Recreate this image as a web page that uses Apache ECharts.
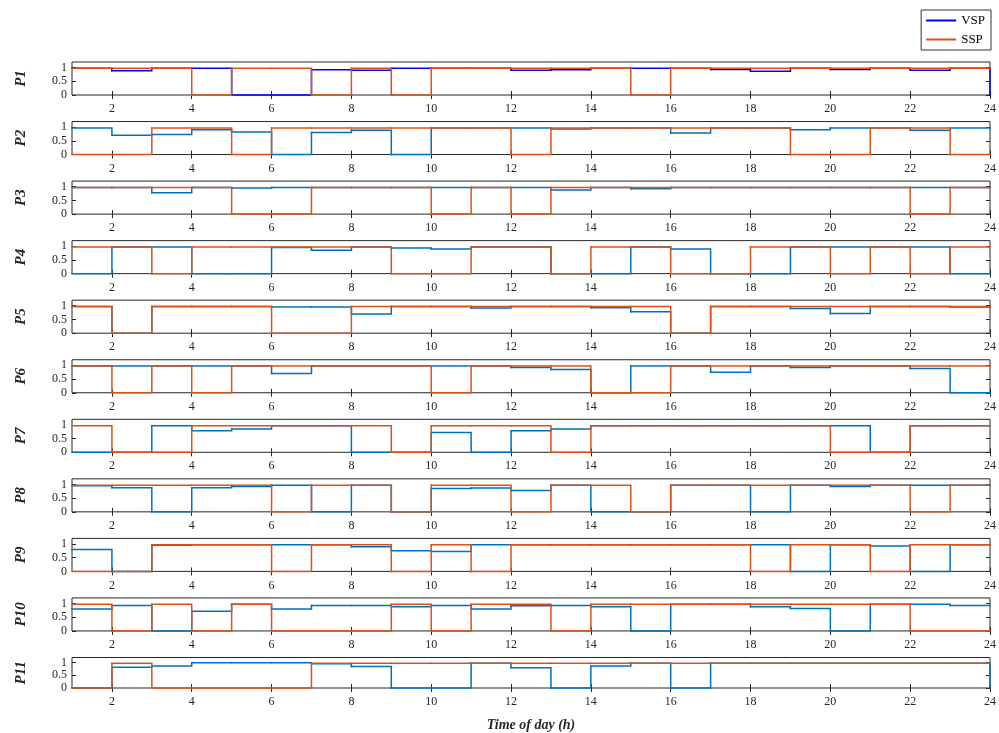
<!DOCTYPE html>
<html>
<head>
<meta charset="utf-8">
<script src="https://cdn.jsdelivr.net/npm/echarts@6/dist/echarts.min.js"></script>
<style>
  html, body { margin: 0; padding: 0; background: #fff; }
  #chart { width: 999px; height: 733px; }
</style>
</head>
<body>
<div id="chart"></div>
<script>
// hours of the day (x), one value per hour, drawn as stairs
var hours = [1, 2, 3, 4, 5, 6, 7, 8, 9, 10, 11, 12, 13, 14, 15, 16, 17, 18, 19, 20, 21, 22, 23, 24];
var xTicks = [2, 4, 6, 8, 10, 12, 14, 16, 18, 20, 22, 24];
var yTicks = [0, 0.5, 1];
var panelNames = ["P1", "P2", "P3", "P4", "P5", "P6", "P7", "P8", "P9", "P10", "P11"];

var vsp1 = [0.97, 0.88, 0.97, 0.97, 0, 0, 0.92, 0.9, 0.97, 0.97, 0.97, 0.9, 0.92, 0.97, 0.97, 0.97, 0.93, 0.86, 0.97, 0.93, 0.97, 0.9, 0.97, 0];
var ssp1 = [0.97, 0.97, 0.97, 0, 0.97, 0.97, 0, 0.97, 0, 0.97, 0.97, 0.97, 0.97, 0.97, 0, 0.97, 0.97, 0.97, 0.97, 0.97, 0.97, 0.97, 0.97, 0.97];
var vsp2 = [0.97, 0.7, 0.73, 0.9, 0.82, 0, 0.8, 0.88, 0, 0.97, 0.97, 0.97, 0.93, 0.97, 0.97, 0.78, 0.97, 0.97, 0.9, 0.97, 0.97, 0.88, 0.97, 0.97];
var ssp2 = [0, 0, 0.97, 0.97, 0, 0.97, 0.97, 0.97, 0.97, 0.97, 0.97, 0, 0.97, 0.97, 0.97, 0.97, 0.97, 0.97, 0, 0, 0.97, 0.97, 0, 0];
var vsp3 = [0.97, 0.97, 0.78, 0.97, 0.95, 0.97, 0.97, 0.97, 0.97, 0.97, 0.97, 0.97, 0.88, 0.97, 0.92, 0.97, 0.97, 0.97, 0.97, 0.97, 0.97, 0.97, 0.97, 0.97];
var ssp3 = [0.97, 0.97, 0.97, 0.97, 0, 0, 0.97, 0.97, 0.97, 0, 0.97, 0, 0.97, 0.97, 0.97, 0.97, 0.97, 0.97, 0.97, 0.97, 0.97, 0, 0.97, 0.97];
var vsp4 = [0, 0.97, 0.97, 0, 0, 0.95, 0.85, 0.97, 0.93, 0.9, 0.97, 0.97, 0, 0, 0.97, 0.9, 0, 0, 0.97, 0.97, 0.97, 0.97, 0, 0];
var ssp4 = [0.97, 0.97, 0, 0.97, 0.97, 0.97, 0.97, 0.97, 0, 0, 0.97, 0.97, 0, 0.97, 0.97, 0, 0, 0.97, 0.97, 0, 0.97, 0, 0.97, 0.97];
var vsp5 = [0.97, 0, 0.97, 0.97, 0.97, 0.95, 0.95, 0.7, 0.97, 0.97, 0.92, 0.97, 0.97, 0.93, 0.78, 0, 0.97, 0.97, 0.9, 0.72, 0.97, 0.97, 0.95, 0.95];
var ssp5 = [0.97, 0, 0.97, 0.97, 0.97, 0, 0, 0.97, 0.97, 0.97, 0.97, 0.97, 0.97, 0.97, 0.97, 0, 0.97, 0.97, 0.97, 0.97, 0.97, 0.97, 0.97, 0.97];
var vsp6 = [0.97, 0.97, 0.97, 0.97, 0.97, 0.7, 0.97, 0.97, 0.97, 0.97, 0.97, 0.92, 0.85, 0, 0.97, 0.97, 0.75, 0.97, 0.92, 0.97, 0.97, 0.88, 0, 0];
var ssp6 = [0.97, 0, 0.97, 0, 0.97, 0.97, 0.97, 0.97, 0.97, 0, 0.97, 0.97, 0.97, 0, 0, 0.97, 0.97, 0.97, 0.97, 0.97, 0.97, 0.97, 0.97, 0.97];
var vsp7 = [0, 0, 0.97, 0.78, 0.85, 0.97, 0.97, 0, 0, 0.72, 0, 0.78, 0.85, 0.97, 0.97, 0.97, 0.97, 0.97, 0.97, 0.97, 0, 0.97, 0.97, 0.97];
var ssp7 = [0.97, 0, 0, 0.97, 0.97, 0.97, 0.97, 0.97, 0, 0.97, 0.97, 0.97, 0, 0.97, 0.97, 0.97, 0.97, 0.97, 0.97, 0, 0, 0.97, 0.97, 0.97];
var vsp8 = [0.95, 0.88, 0, 0.88, 0.92, 0.97, 0, 0.97, 0, 0.85, 0.87, 0.78, 0.97, 0, 0, 0.97, 0.97, 0, 0.97, 0.92, 0.97, 0.97, 0.97, 0.97];
var ssp8 = [0.97, 0.97, 0.97, 0.97, 0.97, 0, 0.97, 0.97, 0, 0.97, 0.97, 0, 0.97, 0.97, 0, 0.97, 0.97, 0.97, 0.97, 0.97, 0.97, 0, 0.97, 0.97];
var vsp9 = [0.8, 0, 0.95, 0.97, 0.97, 0.97, 0.97, 0.9, 0.75, 0.72, 0.97, 0.97, 0.97, 0.97, 0.97, 0.97, 0.97, 0.97, 0, 0.97, 0.92, 0, 0.97, 0.97];
var ssp9 = [0, 0, 0.97, 0.97, 0.97, 0, 0.97, 0.97, 0, 0.97, 0, 0.97, 0.97, 0.97, 0.97, 0.97, 0.97, 0, 0.97, 0.97, 0, 0.97, 0.97, 0.97];
var vsp10 = [0.8, 0.93, 0, 0.72, 0.97, 0.8, 0.93, 0.93, 0.88, 0.93, 0.8, 0.92, 0.93, 0.88, 0, 0.97, 0.97, 0.88, 0.82, 0, 0.97, 0.97, 0.93, 0.93];
var ssp10 = [0.97, 0, 0.97, 0, 0.97, 0, 0, 0, 0.97, 0, 0.97, 0.97, 0, 0.97, 0.97, 0.97, 0.97, 0.97, 0.97, 0.97, 0.97, 0, 0, 0];
var vsp11 = [0, 0.82, 0.87, 0.99, 0.99, 0.99, 0.95, 0.85, 0, 0, 0.97, 0.8, 0, 0.87, 0.97, 0, 0.97, 0.97, 0.97, 0.97, 0.97, 0.97, 0.97, 0];
var ssp11 = [0, 0.97, 0, 0, 0, 0, 0.97, 0.97, 0.97, 0.97, 0.97, 0.97, 0.97, 0.97, 0.97, 0.97, 0.97, 0.97, 0.97, 0.97, 0.97, 0.97, 0.97, 0.97];

var vspAll = [vsp1, vsp2, vsp3, vsp4, vsp5, vsp6, vsp7, vsp8, vsp9, vsp10, vsp11];
var sspAll = [ssp1, ssp2, ssp3, ssp4, ssp5, ssp6, ssp7, ssp8, ssp9, ssp10, ssp11];

var font = '"Liberation Serif", "Times New Roman", serif';
var axisCol = "#262626";
var sspColor = "#D95319";

var myChart = echarts.init(document.getElementById("chart"));

// one item per hour: [hour, value, next value, next hour]
// (the plain line series drops the tiny 1-2px steps, so stairs are drawn by hand)
function stairItems(vals) {
  var out = [];
  for (var k = 0; k < hours.length - 1; k++) {
    out.push([hours[k], vals[k], vals[k + 1], hours[k + 1]]);
  }
  return out;
}

function stairRenderer(color) {
  return function (params, api) {
    var p0 = api.coord([api.value(0), api.value(1)]);
    var p1 = api.coord([api.value(3), api.value(1)]);
    var p2 = api.coord([api.value(3), api.value(2)]);
    return {
      type: "polyline",
      shape: { points: [p0, p1, p2] },
      style: { stroke: color, lineWidth: 1.5, fill: null, lineCap: "square", lineJoin: "miter" }
    };
  };
}

var grids = [], xAxes = [], yAxes = [], series = [];
for (var i = 0; i < panelNames.length; i++) {
  grids.push({
    left: 72, right: 8, top: 62 + i * 59.55, height: 33,
    show: true, borderColor: axisCol, borderWidth: 1, backgroundColor: "#fff"
  });
  var last = i === panelNames.length - 1;
  // bottom x axis with labels
  xAxes.push({
    type: "value", gridIndex: i, min: 1, max: 24, position: "bottom",
    axisLine: { show: false },
    splitLine: { show: false },
    axisTick: { inside: true, length: 4, customValues: xTicks, lineStyle: { color: axisCol } },
    axisLabel: { customValues: xTicks, margin: 8, color: axisCol, fontFamily: font, fontSize: 12 },
    name: last ? "Time of day (h)" : "",
    nameLocation: "middle", nameGap: 30,
    nameTextStyle: { fontFamily: font, fontSize: 14, fontWeight: "bold", fontStyle: "italic", color: axisCol }
  });
  // top ticks only
  xAxes.push({
    type: "value", gridIndex: i, min: 1, max: 24, position: "top",
    axisLine: { show: false }, splitLine: { show: false },
    axisTick: { inside: true, length: 4, customValues: xTicks, lineStyle: { color: axisCol } },
    axisLabel: { show: false }
  });
  yAxes.push({
    type: "value", gridIndex: i, min: 0, max: 1.2, position: "left",
    axisLine: { show: false }, splitLine: { show: false },
    axisTick: { inside: true, length: 4, customValues: yTicks, lineStyle: { color: axisCol } },
    axisLabel: { customValues: yTicks, margin: 5, color: axisCol, fontFamily: font, fontSize: 12 },
    name: panelNames[i], nameLocation: "middle", nameGap: 43, nameRotate: 90,
    nameTextStyle: { fontFamily: font, fontSize: 15, fontWeight: "bold", fontStyle: "italic", color: axisCol }
  });
  yAxes.push({
    type: "value", gridIndex: i, min: 0, max: 1.2, position: "right",
    axisLine: { show: false }, splitLine: { show: false },
    axisTick: { inside: true, length: 4, customValues: yTicks, lineStyle: { color: axisCol } },
    axisLabel: { show: false }
  });
  var vspColor = i === 0 ? "#0000FF" : "#0072BD";
  series.push({
    name: "VSP", type: "custom",
    xAxisIndex: 2 * i, yAxisIndex: 2 * i,
    encode: { x: [0, 3], y: [1, 2] },
    data: stairItems(vspAll[i]),
    renderItem: stairRenderer(vspColor),
    itemStyle: { color: vspColor },
    silent: true
  });
  series.push({
    name: "SSP", type: "custom",
    xAxisIndex: 2 * i, yAxisIndex: 2 * i,
    encode: { x: [0, 3], y: [1, 2] },
    data: stairItems(sspAll[i]),
    renderItem: stairRenderer(sspColor),
    itemStyle: { color: sspColor },
    silent: true
  });
}

var option = {
  animation: false,
  backgroundColor: "#fff",
  legend: {
    data: ["VSP", "SSP"],
    icon: "rect",
    orient: "vertical",
    right: 8, top: 10,
    padding: [4, 6, 4, 5],
    itemGap: 6, itemWidth: 30, itemHeight: 2,
    borderColor: "#333", borderWidth: 1, backgroundColor: "#fff",
    textStyle: { fontFamily: font, fontSize: 13, color: "#000" }
  },
  grid: grids,
  xAxis: xAxes,
  yAxis: yAxes,
  series: series
};
myChart.setOption(option);
</script>
</body>
</html>
